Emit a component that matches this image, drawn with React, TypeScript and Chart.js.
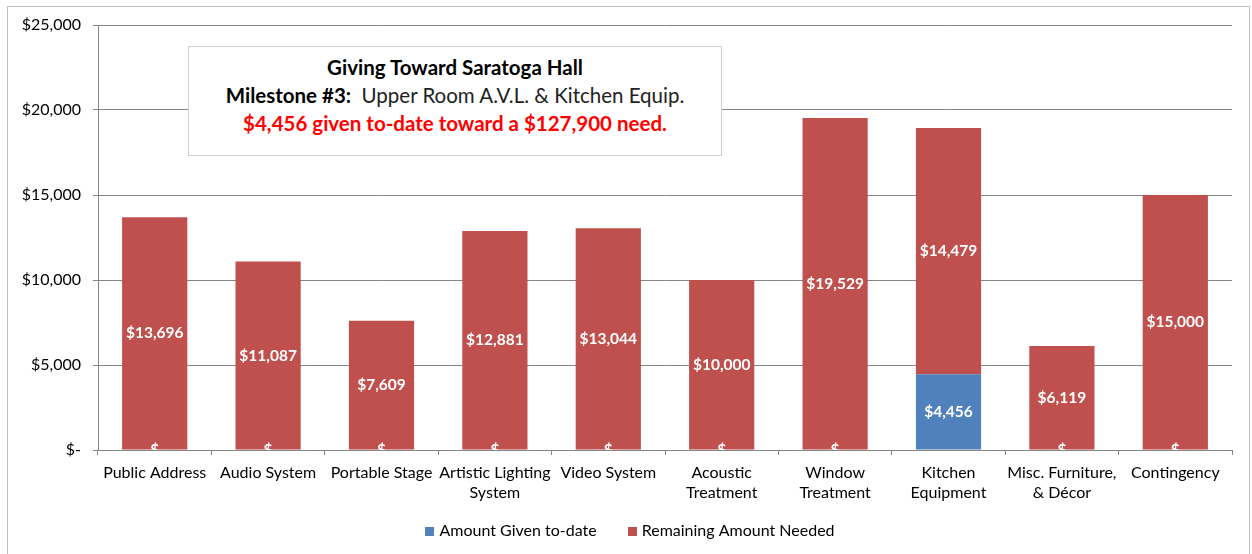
import React, { useEffect, useRef } from "react";
import { Chart, registerables } from "chart.js";

Chart.register(...registerables);

const categories: (string | string[])[] = [
  "Public Address",
  "Audio System",
  "Portable Stage",
  ["Artistic Lighting", "System"],
  "Video System",
  ["Acoustic", "Treatment"],
  ["Window", "Treatment"],
  ["Kitchen", "Equipment"],
  ["Misc. Furniture,", "& Décor"],
  "Contingency",
];
const amountGiven = [0, 0, 0, 0, 0, 0, 0, 4456, 0, 0];
const remainingNeeded = [13696, 11087, 7609, 12881, 13044, 10000, 19529, 14479, 6119, 15000];
const yTicks = [0, 5000, 10000, 15000, 20000, 25000];

const FONT = "Lato, 'Open Sans', sans-serif";
const fmt = (v: number) => (v === 0 ? "$-" : "$" + v.toLocaleString("en-US"));

const barLabels = {
  id: "barLabels",
  afterDatasetsDraw(chart: any) {
    const ctx = chart.ctx;
    const area = chart.chartArea;
    ctx.save();
    ctx.beginPath();
    ctx.rect(area.left, area.top, area.right - area.left, area.bottom - area.top);
    ctx.clip();
    ctx.fillStyle = "#ffffff";
    ctx.font = "bold 15.5px " + FONT;
    ctx.textAlign = "center";
    ctx.textBaseline = "middle";
    chart.data.datasets.forEach((ds: any, di: number) => {
      const meta = chart.getDatasetMeta(di);
      meta.data.forEach((el: any, i: number) => {
        const v = ds.data[i];
        const p = el.getProps(["x", "y", "base"], true);
        if (v === 0) {
          ctx.fillText("$", p.x, p.base);
        } else {
          ctx.fillText(fmt(v), p.x, (p.y + p.base) / 2);
        }
      });
    });
    ctx.restore();
  },
};

// Legend drawn from the datasets' own labels and colours
const bottomLegend = {
  id: "bottomLegend",
  afterDraw(chart: any) {
    const ctx = chart.ctx;
    const box = 9;
    const textGap = 5;
    const itemGap = 31;
    const cy = 531;
    const cx = 630;
    ctx.save();
    ctx.font = "16px " + FONT;
    ctx.textBaseline = "middle";
    ctx.textAlign = "left";
    const items = chart.data.datasets.map((ds: any) => ({
      label: ds.label as string,
      color: ds.backgroundColor as string,
      w: box + textGap + ctx.measureText(ds.label).width,
    }));
    const total = items.reduce((a: number, it: any) => a + it.w, 0) + itemGap * (items.length - 1);
    let x = cx - total / 2;
    items.forEach((it: any) => {
      ctx.fillStyle = it.color;
      ctx.fillRect(Math.round(x), Math.round(cy - box / 2), box, box);
      ctx.fillStyle = "#000";
      ctx.fillText(it.label, x + box + textGap, cy);
      x += it.w + itemGap;
    });
    ctx.restore();
  },
};

export default function App() {
  const ref = useRef<HTMLCanvasElement>(null);
  useEffect(() => {
    if (!ref.current) return;
    const chart = new Chart(ref.current, {
      type: "bar",
      data: {
        labels: categories,
        datasets: [
          {
            label: "Amount Given to-date",
            data: amountGiven,
            backgroundColor: "#4F81BD",
            categoryPercentage: 0.575,
            barPercentage: 1,
          },
          {
            label: "Remaining Amount Needed",
            data: remainingNeeded,
            backgroundColor: "#C0504D",
            categoryPercentage: 0.575,
            barPercentage: 1,
          },
        ],
      },
      options: {
        animation: false,
        responsive: true,
        maintainAspectRatio: false,
        layout: { padding: { top: 25, right: 20, left: 0, bottom: 0 } },
        plugins: {
          legend: { display: false },
          tooltip: { enabled: false },
        },
        scales: {
          x: {
            stacked: true,
            afterFit: (s: any) => {
              s.height = 104;
            },
            grid: {
              display: true,
              drawOnChartArea: false,
              drawTicks: true,
              tickLength: 5,
              color: "#868686",
              offset: true,
            },
            border: { color: "#868686", width: 1 },
            ticks: {
              color: "#000",
              font: { family: FONT, size: 16, lineHeight: 1.3 },
              padding: 7,
              maxRotation: 0,
              autoSkip: false,
            },
          },
          y: {
            stacked: true,
            min: 0,
            max: 25000,
            afterFit: (s: any) => {
              s.width = 98;
            },
            afterBuildTicks: (s: any) => {
              s.ticks = yTicks.map((v) => ({ value: v }));
            },
            grid: {
              color: "#868686",
              tickLength: 5,
              drawTicks: true,
            },
            border: { color: "#868686", width: 1 },
            ticks: {
              color: "#000",
              font: { family: FONT, size: 16 },
              padding: 12,
              callback: (v: any) => fmt(Number(v)),
            },
          },
        },
      },
      plugins: [barLabels, bottomLegend],
    });
    return () => chart.destroy();
  }, []);

  return (
    <div style={{ position: "fixed", left: 0, top: 0, width: 1252, height: 554, background: "#fff" }}>
      <div
        style={{
          position: "absolute",
          left: 7,
          top: 6,
          width: 1241,
          height: 560,
          border: "1px solid #bfbfbf",
        }}
      />
      <div style={{ position: "absolute", left: 0, top: 0, width: 1252, height: 554 }}>
        <canvas ref={ref} />
      </div>
      <div
        style={{
          position: "absolute",
          left: 188,
          top: 46,
          width: 532,
          height: 102,
          border: "1px solid #d0d0d0",
          background: "#fff",
          fontFamily: FONT,
          fontSize: 20.5,
          lineHeight: "28px",
          textAlign: "center",
          paddingTop: 6,
          boxSizing: "content-box",
        }}
      >
        <div style={{ fontWeight: "bold", color: "#000" }}>Giving Toward Saratoga Hall</div>
        <div style={{ color: "#000" }}>
          <span style={{ fontWeight: "bold" }}>Milestone #3:</span>
          <span style={{ color: "#222" }}>&nbsp; Upper Room A.V.L. &amp; Kitchen Equip.</span>
        </div>
        <div style={{ fontWeight: "bold", color: "#ff0000" }}>$4,456 given to-date toward a $127,900 need.</div>
      </div>
    </div>
  );
}
